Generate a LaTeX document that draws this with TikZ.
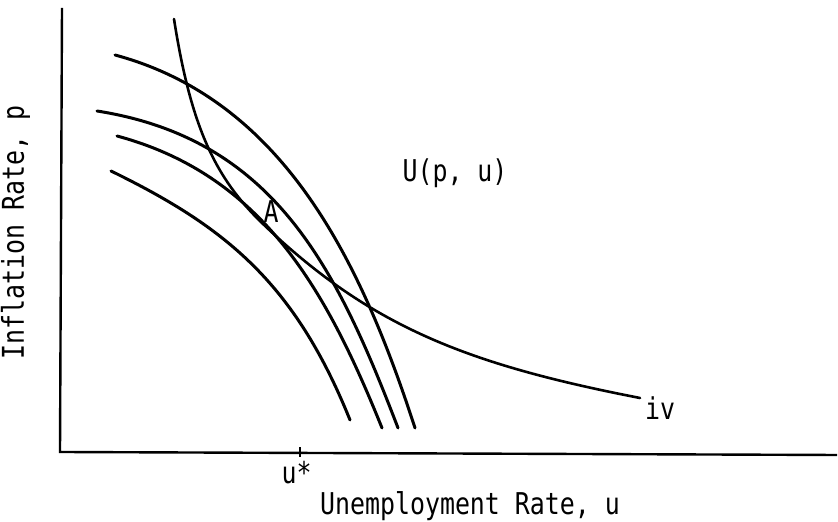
\documentclass[tikz,border=0pt]{standalone}
\usepackage{fontspec}
\setmonofont[FakeStretch=0.83]{DejaVu Sans Mono}
\begin{document}
\begin{tikzpicture}[x=25pt,y=25pt,
  curve/.style={line width=1.5pt,line cap=round},
  lbl/.style={font=\ttfamily\fontsize{15}{18}\selectfont,inner sep=0pt}]
\useasboundingbox (0,0) rectangle (16.76,10.44);
% axes
\draw[line width=1.2pt] (1.24,10.28) -- (1.20,1.40) -- (16.74,1.34);
\draw[line width=1.2pt] (6.00,1.30) -- (6.00,1.50);
% indifference curves
\draw[curve] (2.30,9.34) .. controls (5.68,8.43) and (7.22,5.21) .. (8.30,1.88);
\draw[curve] (1.94,8.22) .. controls (5.50,7.66) and (6.74,5.06) .. (7.96,1.88);
\draw[curve] (2.34,7.72) .. controls (5.24,6.94) and (6.52,4.66) .. (7.64,1.88);
\draw[curve] (2.22,7.02) .. controls (4.47,5.92) and (5.88,4.82) .. (7.00,2.04);
% trade-off curve
\coordinate (tA) at (5.24,5.98);
\coordinate (tend) at (12.80,2.48);
\draw[curve,line width=1.3pt] (3.48,10.06) .. controls (3.82,7.89) and (4.31,6.88) .. (tA)
  .. controls (7.40,3.90) and (9.36,3.15) .. (tend);
% labels
\node[lbl] (A) at (5.42,6.20) {A};
\node[lbl] (iv) at (13.20,2.28) {iv};
\node[lbl] (ustar) at (5.93,0.99) {u*};
\node[lbl,anchor=base] (util) at (9.10,6.80) {U(p, u)};
\node[lbl,anchor=base] (xlabel) at (9.40,0.15) {Unemployment Rate, u};
\node[lbl,anchor=base,rotate=90] (ylabel) at (0.48,5.79) {Inflation Rate, p};
\end{tikzpicture}
\end{document}
